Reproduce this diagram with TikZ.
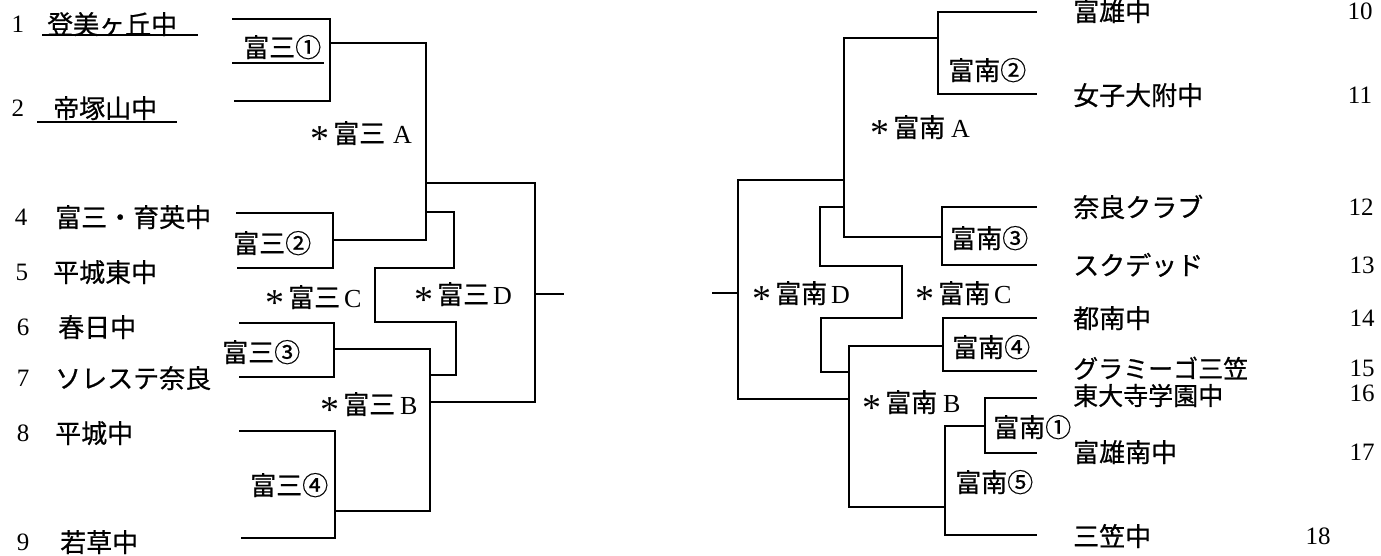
\documentclass[tikz,border=0pt]{standalone}
\usepackage{fontspec}
\setmainfont{Liberation Serif}
\newfontfamily\jp[FakeBold=0.6]{Noto Sans CJK JP}
\newcommand\astk{\raisebox{-8pt}{\rmfamily\fontsize{38}{38}\selectfont *}}
\begin{document}
\begin{tikzpicture}[x=1pt,y=-1pt,
  jp/.style={font=\jp\fontsize{26}{26}\selectfont, inner sep=0pt, text height=20pt, text depth=0pt, anchor=west},
  num/.style={font=\fontsize{25}{25}\selectfont, inner sep=0pt, text height=17pt, text depth=0pt, anchor=center},
  br/.style={line width=1.6pt, line cap=rect, line join=miter},
  uline/.style={line width=1.9pt}]
\useasboundingbox[fill=white] (0,0) rectangle (1381,555);

% ---------------- left teams ----------------
\node[num] (k1) at (18,24) {1};
\node[jp]  (t1) at (47,24) {登美ヶ丘中};
\node[num] (k2) at (18,108) {2};
\node[jp]  (t2) at (53,108) {帝塚山中};
\node[num] (k4) at (21,217) {4};
\node[jp]  (t4) at (55,217) {富三・育英中};
\node[num] (k5) at (22,272) {5};
\node[jp]  (t5) at (53,272) {平城東中};
\node[num] (k6) at (23,327) {6};
\node[jp]  (t6) at (58,327) {春日中};
\node[num] (k7) at (23,378) {7};
\node[jp]  (t7) at (55,378) {ソレステ奈良};
\node[num] (k8) at (23,433) {8};
\node[jp]  (t8) at (55,433) {平城中};
\node[num] (k9) at (23,542) {9};
\node[jp]  (t9) at (60,542) {若草中};
\draw[uline] ([xshift=-5pt,yshift=-1pt]t1.south west) -- ([xshift=21pt,yshift=-1pt]t1.south east);
\draw[uline] ([xshift=-16pt,yshift=-4pt]t2.south west) -- ([xshift=20pt,yshift=-4pt]t2.south east);

% ---------------- left labels ----------------
\node[jp] (l1) at (243,47) {富三①};
\draw[uline] ([xshift=-11pt,yshift=-6pt]l1.south west) -- ([xshift=3pt,yshift=-6pt]l1.south east);
\node[jp] (lA) at (310,133) {\astk\hspace{4pt}富三\hspace{8pt}{\rmfamily A}};
\node[jp] (l2) at (233,243) {富三②};
\node[jp] (lC) at (265,297) {\astk\hspace{4pt}富三\hspace{4pt}{\rmfamily C}};
\node[jp] (lD) at (414,294) {\astk\hspace{4pt}富三\hspace{4pt}{\rmfamily D}};
\node[jp] (l3) at (222,352) {富三③};
\node[jp] (lB) at (320,404) {\astk\hspace{4pt}富三\hspace{5pt}{\rmfamily B}};
\node[jp] (l4) at (250,485) {富三④};

% ---------------- left bracket ----------------
\coordinate (e1) at (233,19);  \coordinate (e2) at (235,101);
\coordinate (e4) at (237,213); \coordinate (e5) at (238,268);
\coordinate (e6) at (240,323); \coordinate (e7) at (240,377);
\coordinate (e8) at (240,431); \coordinate (e9) at (242,538);
\coordinate (m1) at (330,43);  \coordinate (m2) at (333,240);
\coordinate (m3) at (334,349); \coordinate (m4) at (335,511);
\coordinate (mA) at (426,183); \coordinate (mB) at (430,402);
\coordinate (mD) at (535,294); \coordinate (dL) at (563,294);
\draw[br] (e1) -- (e1 -| m1) -- (e2 -| m1) -- (e2);
\draw[br] (e4) -- (e4 -| m2) -- (e5 -| m2) -- (e5);
\draw[br] (e6) -- (e6 -| m3) -- (e7 -| m3) -- (e7);
\draw[br] (e8) -- (e8 -| m4) -- (e9 -| m4) -- (e9);
\draw[br] (m1) -- (m1 -| mA) -- (m2 -| mA) -- (m2);
\draw[br] (m3) -- (m3 -| mB) -- (m4 -| mB) -- (m4);
\draw[br] (mA) -- (mA -| mD) -- (mB -| mD) -- (mB);
\draw[br] (mD) -- (dL);
\draw[br] (426,212) -- (454,212) -- (454,268) -- (375,268) -- (375,322)
          -- (456,322) -- (456,375) -- (430,375);

% ---------------- right teams ----------------
\node[jp] (r10) at (1073,11)  {富雄中};
\node[jp] (r11) at (1073,95)  {女子大附中};
\node[jp] (r12) at (1073,207) {奈良クラブ};
\node[jp] (r13) at (1073,265) {スクデッド};
\node[jp] (r14) at (1073,318) {都南中};
\node[jp, font=\jp\fontsize{25}{25}\selectfont] (r15) at (1073,368) {グラミーゴ三笠};
\node[jp, font=\jp\fontsize{25}{25}\selectfont] (r16) at (1073,395) {東大寺学園中};
\node[jp] (r17) at (1073,452) {富雄南中};
\node[jp] (r18) at (1073,536) {三笠中};
\node[num] (q10) at (1360,11)  {10};
\node[num] (q11) at (1360,95)  {11};
\node[num] (q12) at (1361,207) {12};
\node[num] (q13) at (1362,265) {13};
\node[num] (q14) at (1362,318) {14};
\node[num] (q15) at (1362,368) {15};
\node[num] (q16) at (1362,393) {16};
\node[num] (q17) at (1362,452) {17};
\node[num] (q18) at (1318,536) {18};

% ---------------- right labels ----------------
\node[jp] (s2) at (948,70)  {富南②};
\node[jp] (sA) at (870,127) {\astk\hspace{4pt}富南\hspace{6pt}{\rmfamily A}};
\node[jp] (s3) at (950,238) {富南③};
\node[jp] (sD) at (752,293) {\astk\hspace{4pt}富南\hspace{4pt}{\rmfamily D}};
\node[jp] (sC) at (915,293) {\astk\hspace{4pt}富南\hspace{4pt}{\rmfamily C}};
\node[jp] (s4) at (952,347) {富南④};
\node[jp] (sB) at (862,402) {\astk\hspace{4pt}富南\hspace{6pt}{\rmfamily B}};
\node[jp] (s1) at (993,427) {富南①};
\node[jp] (s5) at (955,482) {富南⑤};

% ---------------- right bracket ----------------
\coordinate (f10) at (1036,12);  \coordinate (f11) at (1036,94);
\coordinate (f12) at (1036,207); \coordinate (f13) at (1036,265);
\coordinate (f14) at (1036,318); \coordinate (f15) at (1036,371);
\coordinate (f16) at (1036,398); \coordinate (f17) at (1036,453);
\coordinate (f18) at (1036,535);
\coordinate (n2) at (938,38);  \coordinate (n3) at (942,237);
\coordinate (n4) at (943,346); \coordinate (n1) at (985,426);
\coordinate (n5) at (945,507);
\coordinate (nA) at (844,180); \coordinate (nB) at (849,399);
\coordinate (nD) at (738,293); \coordinate (dR) at (713,293);
\draw[br] (f10) -- (f10 -| n2) -- (f11 -| n2) -- (f11);
\draw[br] (f12) -- (f12 -| n3) -- (f13 -| n3) -- (f13);
\draw[br] (f14) -- (f14 -| n4) -- (f15 -| n4) -- (f15);
\draw[br] (f16) -- (f16 -| n1) -- (f17 -| n1) -- (f17);
\draw[br] (n1) -- (n1 -| n5) -- (f18 -| n5) -- (f18);
\draw[br] (n2) -- (n2 -| nA) -- (n3 -| nA) -- (n3);
\draw[br] (n4) -- (n4 -| nB) -- (n5 -| nB) -- (n5);
\draw[br] (nA) -- (nA -| nD) -- (nB -| nD) -- (nB);
\draw[br] (nD) -- (dR);
\draw[br] (844,207) -- (820,207) -- (820,266) -- (902,266) -- (902,318)
          -- (821,318) -- (821,372) -- (849,372);
\end{tikzpicture}
\end{document}
